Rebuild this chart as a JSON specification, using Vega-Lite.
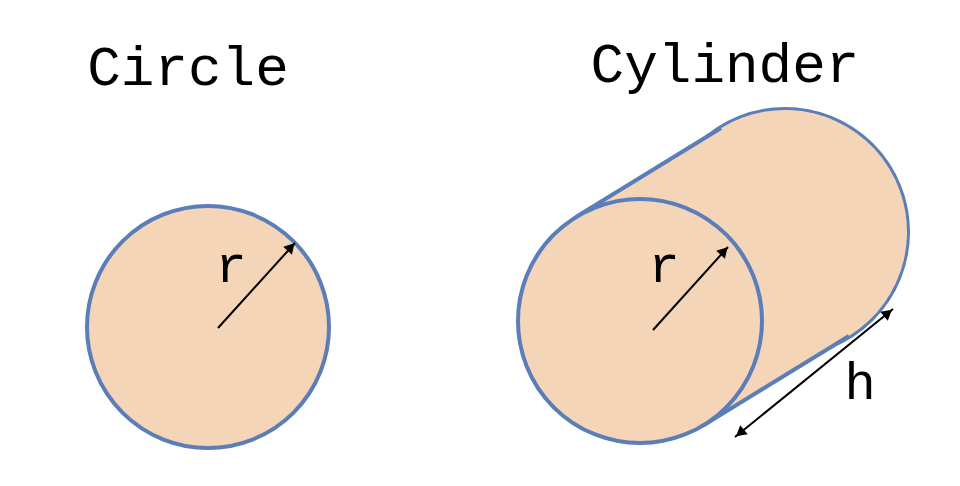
{
  "$schema": "https://vega.github.io/schema/vega-lite/v6.json",
  "width": 960,
  "height": 486,
  "autosize": {"type": "fit", "contains": "padding"},
  "padding": 0,
  "background": "white",
  "config": {"view": {"stroke": null}},
  "datasets": {
    "circles": [
      {"id": "back", "x": 785, "y": 232, "d": 246},
      {"id": "circle", "x": 208, "y": 327, "d": 242},
      {"id": "front", "x": 640, "y": 321, "d": 244}
    ],
    "body": [
      {"x": 640, "y": 321, "k": 0},
      {"x": 785, "y": 232, "k": 1}
    ],
    "edges": [
      {"x": 576, "y": 217, "x2": 721, "y2": 128},
      {"x": 704, "y": 425, "x2": 849, "y2": 336}
    ],
    "arrows": [
      {"x": 218, "y": 328, "x2": 295, "y2": 243},
      {"x": 653, "y": 330, "x2": 728, "y2": 247},
      {"x": 735, "y": 437, "x2": 893, "y2": 309}
    ],
    "heads": [
      {"x": 291, "y": 247, "a": 42},
      {"x": 724, "y": 251, "a": 42},
      {"x": 888, "y": 313, "a": 51},
      {"x": 740, "y": 433, "a": 231}
    ],
    "labels": [
      {"t": "Circle", "x": 188, "y": 68, "s": 56},
      {"t": "Cylinder", "x": 725, "y": 65, "s": 56},
      {"t": "r", "x": 231, "y": 266, "s": 52},
      {"t": "r", "x": 664, "y": 266, "s": 52},
      {"t": "h", "x": 860, "y": 383, "s": 52}
    ]
  },
  "layer": [
    {
      "data": {"name": "circles"},
      "transform": [{"filter": "datum.id == 'back'"}, {"calculate": "datum.d * datum.d", "as": "area"}],
      "mark": {"type": "point", "shape": "circle", "filled": false, "fill": "#F5D5B8", "fillOpacity": 1, "stroke": "#5B7DB8", "strokeWidth": 4, "opacity": 1},
      "encoding": {
        "x": {"field": "x", "type": "quantitative", "scale": {"domain": [0, 960]}, "axis": null},
        "y": {"field": "y", "type": "quantitative", "scale": {"domain": [486, 0]}, "axis": null},
        "size": {"field": "area", "type": "quantitative", "scale": null}
      }
    },
    {
      "data": {"name": "body"},
      "mark": {"type": "trail", "color": "#F5D5B8", "opacity": 1},
      "encoding": {
        "x": {"field": "x", "type": "quantitative", "scale": {"domain": [0, 960]}, "axis": null},
        "y": {"field": "y", "type": "quantitative", "scale": {"domain": [486, 0]}, "axis": null},
        "order": {"field": "k"},
        "size": {"value": 244}
      }
    },
    {
      "data": {"name": "edges"},
      "mark": {"type": "rule", "color": "#5B7DB8", "strokeWidth": 4},
      "encoding": {
        "x": {"field": "x", "type": "quantitative", "scale": {"domain": [0, 960]}, "axis": null},
        "y": {"field": "y", "type": "quantitative", "scale": {"domain": [486, 0]}, "axis": null},
        "x2": {"field": "x2"},
        "y2": {"field": "y2"}
      }
    },
    {
      "data": {"name": "circles"},
      "transform": [{"filter": "datum.id != 'back'"}, {"calculate": "datum.d * datum.d", "as": "area"}],
      "mark": {"type": "point", "shape": "circle", "filled": false, "fill": "#F5D5B8", "fillOpacity": 1, "stroke": "#5B7DB8", "strokeWidth": 4, "opacity": 1},
      "encoding": {
        "x": {"field": "x", "type": "quantitative", "scale": {"domain": [0, 960]}, "axis": null},
        "y": {"field": "y", "type": "quantitative", "scale": {"domain": [486, 0]}, "axis": null},
        "size": {"field": "area", "type": "quantitative", "scale": null}
      }
    },
    {
      "data": {"name": "arrows"},
      "mark": {"type": "rule", "color": "black", "strokeWidth": 2},
      "encoding": {
        "x": {"field": "x", "type": "quantitative", "scale": {"domain": [0, 960]}, "axis": null},
        "y": {"field": "y", "type": "quantitative", "scale": {"domain": [486, 0]}, "axis": null},
        "x2": {"field": "x2"},
        "y2": {"field": "y2"}
      }
    },
    {
      "data": {"name": "heads"},
      "mark": {"type": "point", "shape": "triangle-up", "filled": true, "color": "black", "opacity": 1},
      "encoding": {
        "x": {"field": "x", "type": "quantitative", "scale": {"domain": [0, 960]}, "axis": null},
        "y": {"field": "y", "type": "quantitative", "scale": {"domain": [486, 0]}, "axis": null},
        "angle": {"field": "a", "type": "quantitative", "scale": null},
        "size": {"value": 140}
      }
    },
    {
      "data": {"name": "labels"},
      "mark": {"type": "text", "font": "Liberation Mono", "color": "black", "align": "center", "baseline": "middle"},
      "encoding": {
        "x": {"field": "x", "type": "quantitative", "scale": {"domain": [0, 960]}, "axis": null},
        "y": {"field": "y", "type": "quantitative", "scale": {"domain": [486, 0]}, "axis": null},
        "text": {"field": "t"},
        "size": {"field": "s", "type": "quantitative", "scale": null}
      }
    }
  ]
}
